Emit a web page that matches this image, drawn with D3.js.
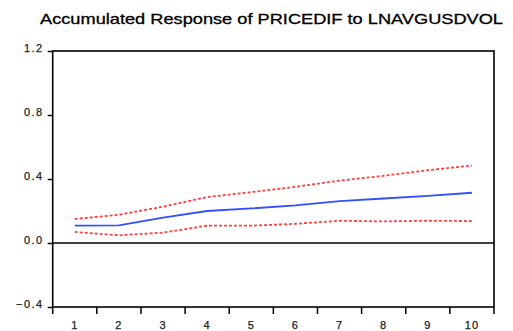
<!DOCTYPE html>
<html><head><meta charset="utf-8">
<script src="https://cdn.jsdelivr.net/npm/d3@7"></script>
<style>body{margin:0;background:#fff}svg{display:block}</style>
</head><body>
<svg id="c" width="513" height="331"></svg>
<script>
const periods = [1,2,3,4,5,6,7,8,9,10];
const response = [0.108,0.110,0.158,0.200,0.216,0.235,0.262,0.278,0.295,0.314];
const upperBand = [0.150,0.177,0.227,0.287,0.318,0.351,0.390,0.420,0.455,0.484];
const lowerBand = [0.069,0.048,0.065,0.108,0.108,0.120,0.139,0.135,0.139,0.137];
const yTicks = [-0.4,0.0,0.4,0.8,1.2];
const titleText = "Accumulated Response of PRICEDIF to LNAVGUSDVOL";

const svg = d3.select("#c");
const L=52.7,R=494,T=51,B=307;
const x = d3.scaleBand().domain(periods).range([L,R]).padding(0);
const y = d3.scaleLinear().domain([-0.4,1.2]).range([B,T]);
const cx = d => x(d)+x.bandwidth()/2;

svg.append("text").attr("x",40).attr("y",24).attr("textLength",463).attr("lengthAdjust","spacingAndGlyphs")
  .attr("font-family","Liberation Sans, Arial, sans-serif").attr("font-size",14.5)
  .attr("fill","#000").attr("stroke","#000").attr("stroke-width",0.3).text(titleText);

// y axis
const ya = svg.append("g").attr("transform",`translate(${L},0)`)
  .call(d3.axisLeft(y).tickValues(yTicks).tickSize(5).tickSizeOuter(0).tickFormat(d3.format(".1f")));
ya.select(".domain").remove();
ya.selectAll("line").attr("stroke","#000").attr("stroke-width",1.5);
ya.selectAll("text").attr("font-family","Liberation Sans, Arial, sans-serif").attr("font-size",11)
  .attr("fill","#222").attr("stroke","#222").attr("stroke-width",0.25)
  .attr("letter-spacing",1.5).attr("dy","0.05em").attr("x",-9);

// x axis
const xa = svg.append("g").attr("transform",`translate(0,${B})`)
  .call(d3.axisBottom(x).tickSize(0).tickSizeOuter(0));
xa.select(".domain").remove();
xa.selectAll("text").attr("font-family","Liberation Sans, Arial, sans-serif").attr("font-size",11)
  .attr("fill","#222").attr("stroke","#222").attr("stroke-width",0.25)
  .attr("y",14).attr("letter-spacing",1);
const edges = periods.map(p=>x(p)).concat([R]);
svg.append("g").selectAll("line").data(edges).join("line")
  .attr("x1",d=>d).attr("x2",d=>d).attr("y1",B).attr("y2",B+7)
  .attr("stroke","#000").attr("stroke-width",1.5);

// frame
svg.append("rect").attr("x",L).attr("y",T).attr("width",R-L).attr("height",B-T)
  .attr("fill","none").attr("stroke","#000").attr("stroke-width",1.6);
// zero line
svg.append("line").attr("x1",L).attr("x2",R).attr("y1",y(0)).attr("y2",y(0))
  .attr("stroke","#000").attr("stroke-width",1.5);

const line = d3.line().x((d,i)=>cx(periods[i])).y(d=>y(d));
svg.append("path").datum(upperBand).attr("d",line).attr("fill","none")
  .attr("stroke","#ff2020").attr("stroke-width",1.8).attr("stroke-dasharray","3,2").attr("opacity",0.85);
svg.append("path").datum(lowerBand).attr("d",line).attr("fill","none")
  .attr("stroke","#ff2020").attr("stroke-width",1.8).attr("stroke-dasharray","3,2").attr("opacity",0.85);
svg.append("path").datum(response).attr("d",line).attr("fill","none")
  .attr("stroke","#3050ff").attr("stroke-width",1.8);
</script>
</body></html>
